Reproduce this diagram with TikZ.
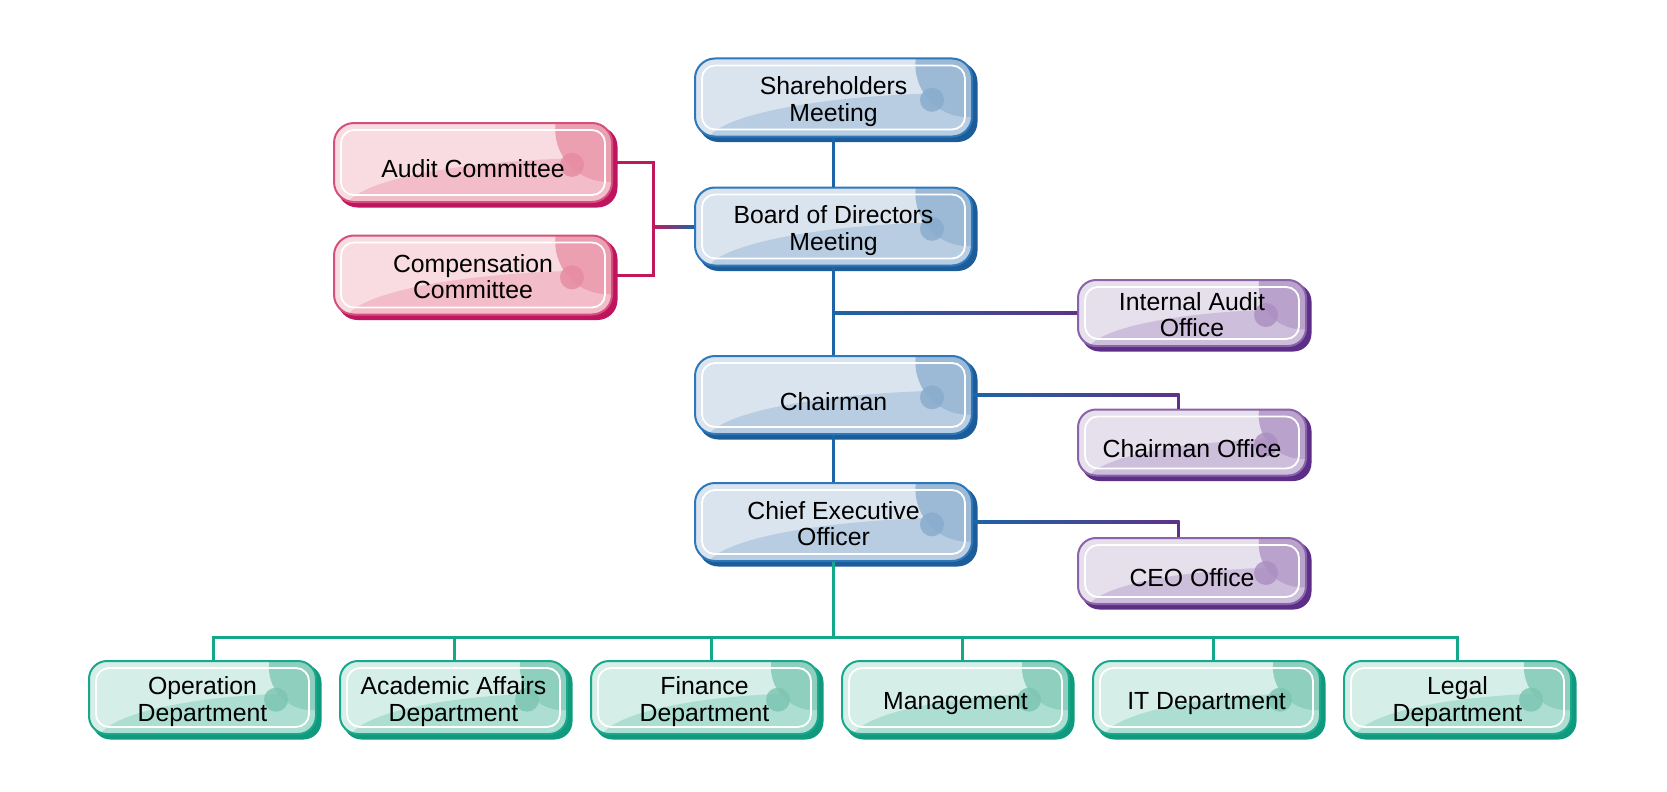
\documentclass[tikz,border=0pt]{standalone}
\usepackage{fontspec}
\setmainfont{Liberation Sans}
\usetikzlibrary{calc,backgrounds}
\definecolor{bLight}{HTML}{DAE4EF}\definecolor{bLow}{HTML}{B9CDE2}\definecolor{bCirc}{HTML}{9CB9D6}\definecolor{bSmall}{HTML}{87AACD}
\definecolor{bBorder}{HTML}{2D78BB}\definecolor{bShadow}{HTML}{1B5C99}\definecolor{bLine}{HTML}{1D64A6}
\definecolor{pLight}{HTML}{F9DBE2}\definecolor{pLow}{HTML}{F2BCC8}\definecolor{pCirc}{HTML}{EC9FB0}\definecolor{pSmall}{HTML}{E68AA0}
\definecolor{pBorder}{HTML}{D6507E}\definecolor{pShadow}{HTML}{BF1560}\definecolor{pLine}{HTML}{C2185B}
\definecolor{uLight}{HTML}{E6DFEC}\definecolor{uLow}{HTML}{CDBFDC}\definecolor{uCirc}{HTML}{B9A2CC}\definecolor{uSmall}{HTML}{A98DC0}
\definecolor{uBorder}{HTML}{8B63A9}\definecolor{uShadow}{HTML}{5C2E87}\definecolor{uLine}{HTML}{5E3288}
\definecolor{gLight}{HTML}{D5EEE7}\definecolor{gLow}{HTML}{ACDFD1}\definecolor{gCirc}{HTML}{8FCFBE}\definecolor{gSmall}{HTML}{7BC4B1}
\definecolor{gBorder}{HTML}{1AA88C}\definecolor{gShadow}{HTML}{0F9A7E}\definecolor{gLine}{HTML}{14A88B}
\newcommand\orgfont{\fontsize{24.8pt}{26.5pt}\selectfont}
\newcommand\lowtext[1]{\raisebox{-5pt}[\height][\depth]{\begin{tabular}{@{}c@{}}#1\end{tabular}}}
\newcommand\lowone[1]{\raisebox{-6.5pt}[\height][\depth]{#1}}
\tikzset{
  deco/.style n args={3}{
    path picture={
      \fill[#1] let \p1=(path picture bounding box.south west), \p2=(path picture bounding box.north east) in
        ({\x2},{\y1-0.1*(\y2-\y1)}) ellipse [x radius={0.96*(\x2-\x1)}, y radius={0.66*(\y2-\y1)}];
      \fill[#2] let \p1=(path picture bounding box.south west), \p2=(path picture bounding box.north east) in
        ({\x2-4pt},{\y2-6pt}) circle [radius={0.19*(\x2-\x1)}];
      \fill[#3, opacity=0.8] let \p1=(path picture bounding box.south west), \p2=(path picture bounding box.north east) in
        ({\x2-40pt},{\y2-0.53*(\y2-\y1)}) circle [radius=12pt];
      \draw[white, line width=1.8pt, rounded corners=13pt] let \p1=(path picture bounding box.south west), \p2=(path picture bounding box.north east) in
        ({\x1+7pt},{\y1+7pt}) rectangle ({\x2-7pt},{\y2-7pt});
    }
  },
  obox/.style={line width=2pt, rounded corners=20pt, font=\orgfont, inner sep=0pt},
  bluebox/.style={obox, draw=bBorder, fill=bLight, minimum width=277pt, minimum height=78pt, deco={bLow}{bCirc}{bSmall}},
  pinkbox/.style={obox, draw=pBorder, fill=pLight, minimum width=278pt, minimum height=79pt, deco={pLow}{pCirc}{pSmall}},
  purpbox/.style={obox, draw=uBorder, fill=uLight, minimum width=228pt, minimum height=66pt, rounded corners=18pt, deco={uLow}{uCirc}{uSmall}},
  greenbox/.style={obox, draw=gBorder, fill=gLight, minimum width=227pt, minimum height=73pt, rounded corners=18pt, deco={gLow}{gCirc}{gSmall}},
  conn/.style={line width=3pt},
}
\begin{document}
\begin{tikzpicture}[x=1pt,y=-1pt]
\useasboundingbox (0,0) rectangle (1667,792);
% boxes
\node[bluebox] (share) at (833.5,97.5) {\lowtext{Shareholders\\Meeting}};
\node[bluebox] (board) at (833.5,226.5) {\lowtext{Board of Directors\\Meeting}};
\node[bluebox] (chair) at (833.5,395) {\lowone{Chairman}};
\node[bluebox] (ceo) at (833.5,522) {\lowtext{Chief Executive\\Officer}};
\node[pinkbox] (audit) at (473,162.5) {\lowone{Audit Committee}};
\node[pinkbox] (comp) at (473,275) {\lowtext{Compensation\\Committee}};
\node[purpbox] (intaud) at (1192,313) {\lowtext{Internal Audit\\Office}};
\node[purpbox] (choff) at (1192,442.5) {\lowone{Chairman Office}};
\node[purpbox] (ceooff) at (1192,571) {\lowone{CEO Office}};
\node[greenbox] (op) at (202.5,697.5) {\lowtext{Operation\\Department}};
\node[greenbox] (acad) at (453.5,697.5) {\lowtext{Academic Affairs\\Department}};
\node[greenbox] (fin) at (704.5,697.5) {\lowtext{Finance\\Department}};
\node[greenbox] (mgmt) at (955.5,697.5) {\lowone{Management}};
\node[greenbox] (it) at (1206.5,697.5) {\lowone{IT Department}};
\node[greenbox] (legal) at (1457.5,697.5) {\lowtext{Legal\\Department}};
% background and shadows
\begin{scope}[on background layer]
\fill[white] (0,0) rectangle (1667,792);
\foreach \n/\c in {share/bShadow,board/bShadow,chair/bShadow,ceo/bShadow,audit/pShadow,comp/pShadow}
  \fill[\c, rounded corners=20pt] ([shift={(4.5pt,-4.5pt)}]\n.south west) rectangle ([shift={(4.5pt,-4.5pt)}]\n.north east);
\foreach \n/\c in {intaud/uShadow,choff/uShadow,ceooff/uShadow,op/gShadow,acad/gShadow,fin/gShadow,mgmt/gShadow,it/gShadow,legal/gShadow}
  \fill[\c, rounded corners=18pt] ([shift={(4.5pt,-4.5pt)}]\n.south west) rectangle ([shift={(4.5pt,-4.5pt)}]\n.north east);
\end{scope}
% blue spine
\draw[conn, bLine] (share.south) -- (board.north);
\draw[conn, bLine] (board.south) -- (chair.north);
\draw[conn, bLine] (chair.south) -- (ceo.north);
% internal audit branch
\coordinate (ia) at (board.south |- intaud.west);
\shade[left color=bLine, right color=uLine] ($(ia)+(-1.5,-1.5)$) rectangle ($(intaud.west)+(0,1.5)$);
% committees
\coordinate (cj) at (653,227);
\draw[conn, pLine] (audit.east) -| (cj) |- (comp.east);
\shade[left color=pLine, right color=bLine] ($(cj)+(0,-1.5)$) rectangle ($(board.west)+(0,1.5)$);
% chairman office
\coordinate (chk) at ([xshift=-14pt]choff.north |- chair.east);
\shade[left color=bLine, right color=uLine] ($(chair.east)+(0,-1.5)$) rectangle ($(chk)+(1.5,1.5)$);
\draw[conn, uLine] ($(chk)+(0,-1.5)$) -- ([xshift=-14pt]choff.north);
% ceo office
\coordinate (cek) at ([xshift=-14pt]ceooff.north |- ceo.east);
\shade[left color=bLine, right color=uLine] ($(ceo.east)+(0,-1.5)$) rectangle ($(cek)+(1.5,1.5)$);
\draw[conn, uLine] ($(cek)+(0,-1.5)$) -- ([xshift=-14pt]ceooff.north);
% departments
\coordinate (bus) at (833.5,637);
\draw[conn, gLine] (ceo.south) -- (bus);
\draw[conn, gLine] ([xshift=11pt]op.north) |- (legal.north |- bus) -- (legal.north);
\foreach \n/\d in {acad/0.5,fin/6.5,mgmt/6.5,it/6.5}
  \draw[conn, gLine] ([xshift=\d pt]\n.north |- bus) -- ([xshift=\d pt]\n.north);
\end{tikzpicture}
\end{document}
